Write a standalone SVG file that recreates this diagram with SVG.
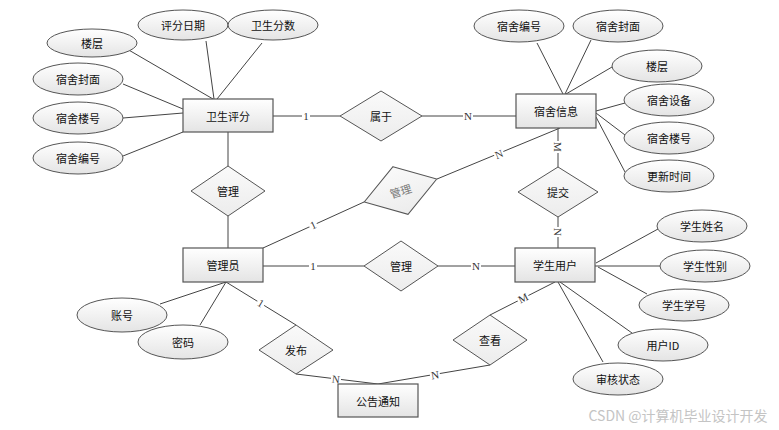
<svg xmlns="http://www.w3.org/2000/svg" width="779" height="430" viewBox="0 0 779 430">
<defs>
<linearGradient id="g" x1="0" y1="0" x2="0" y2="1">
<stop offset="0" stop-color="#ffffff"/>
<stop offset="1" stop-color="#e4e4e4"/>
</linearGradient>
<linearGradient id="gd" x1="0" y1="0" x2="0" y2="1">
<stop offset="0" stop-color="#fafafa"/>
<stop offset="1" stop-color="#ececec"/>
</linearGradient>
<style>
.ent{fill:url(#g);stroke:#555;stroke-width:1.2}
.att{fill:url(#g);stroke:#555;stroke-width:1}
.rel{fill:url(#gd);stroke:#555;stroke-width:1}
.t{font-family:"Noto Sans CJK SC","Liberation Sans",sans-serif;font-size:11px;fill:#111;text-anchor:middle;dominant-baseline:central}
.ln{stroke:#444;stroke-width:1;fill:none}
.lb{font-family:"Liberation Serif",serif;font-size:11px;fill:#333;text-anchor:middle;dominant-baseline:central}
.bg{fill:#fff}
</style>
</defs>
<rect width="779" height="430" fill="#fff"/>

<g id="connectors">
<line class="ln" x1="127" y1="49" x2="213" y2="99"/>
<line class="ln" x1="206" y1="41" x2="214" y2="99"/>
<line class="ln" x1="262" y1="43" x2="217" y2="99"/>
<line class="ln" x1="123" y1="84" x2="183" y2="109"/>
<line class="ln" x1="123" y1="118" x2="183" y2="113"/>
<line class="ln" x1="123" y1="156" x2="183" y2="132"/>
<line class="ln" x1="273" y1="116" x2="340" y2="116"/>
<line class="ln" x1="422" y1="116" x2="516" y2="116"/>
<line class="ln" x1="537" y1="43" x2="563" y2="94"/>
<line class="ln" x1="591" y1="40" x2="565" y2="94"/>
<line class="ln" x1="612" y1="67" x2="566" y2="94"/>
<line class="ln" x1="625" y1="103" x2="596" y2="111"/>
<line class="ln" x1="625" y1="135" x2="596" y2="113"/>
<line class="ln" x1="625" y1="172" x2="596" y2="117"/>
<line class="ln" x1="558" y1="128" x2="558" y2="167"/>
<line class="ln" x1="558" y1="217" x2="558" y2="248"/>
<line class="ln" x1="228" y1="132" x2="228" y2="166"/>
<line class="ln" x1="228" y1="216" x2="228" y2="248"/>
<line class="ln" x1="263" y1="248" x2="364" y2="202"/>
<line class="ln" x1="437" y1="179" x2="560" y2="128"/>
<line class="ln" x1="263" y1="266" x2="364" y2="266"/>
<line class="ln" x1="438" y1="266" x2="515" y2="266"/>
<line class="ln" x1="658" y1="229" x2="596" y2="263"/>
<line class="ln" x1="660" y1="266" x2="595" y2="266"/>
<line class="ln" x1="647" y1="294" x2="598" y2="267"/>
<line class="ln" x1="632" y1="333" x2="560" y2="282"/>
<line class="ln" x1="603" y1="362" x2="558" y2="282"/>
<line class="ln" x1="490" y1="315" x2="555" y2="282"/>
<line class="ln" x1="490" y1="365" x2="378" y2="384"/>
<line class="ln" x1="296" y1="374" x2="378" y2="384"/>
<line class="ln" x1="226" y1="282" x2="296" y2="325"/>
<line class="ln" x1="160" y1="304" x2="226" y2="282"/>
<line class="ln" x1="200" y1="325" x2="226" y2="282"/>
<g id="labels">
<g transform="translate(306,116)"><rect class="bg" x="-4" y="-5" width="8" height="10"/><text class="lb">1</text></g>
<g transform="translate(468,116)"><rect class="bg" x="-5" y="-5" width="10" height="10"/><text class="lb">N</text></g>
<g transform="translate(558,147) rotate(90)"><rect class="bg" x="-6" y="-5" width="12" height="10"/><text class="lb">M</text></g>
<g transform="translate(558,232) rotate(90)"><rect class="bg" x="-5" y="-5" width="10" height="10"/><text class="lb">N</text></g>
<g transform="translate(313,225) rotate(-24.5)"><rect class="bg" x="-4" y="-5" width="8" height="10"/><text class="lb">1</text></g>
<g transform="translate(499,154) rotate(-22.5)"><rect class="bg" x="-5" y="-5" width="10" height="10"/><text class="lb">N</text></g>
<g transform="translate(313,266)"><rect class="bg" x="-4" y="-5" width="8" height="10"/><text class="lb">1</text></g>
<g transform="translate(476,266)"><rect class="bg" x="-5" y="-5" width="10" height="10"/><text class="lb">N</text></g>
<g transform="translate(523,298) rotate(-27)"><rect class="bg" x="-6" y="-5" width="12" height="10"/><text class="lb">M</text></g>
<g transform="translate(435,375) rotate(-9.6)"><rect class="bg" x="-5" y="-5" width="10" height="10"/><text class="lb">N</text></g>
<g transform="translate(336,379) rotate(7)"><rect class="bg" x="-5" y="-5" width="10" height="10"/><text class="lb">N</text></g>
<g transform="translate(261,303) rotate(31.6)"><rect class="bg" x="-4" y="-5" width="8" height="10"/><text class="lb">1</text></g>
</g>
</g>

<g id="n-weisheng"><rect class="ent" x="183" y="99" width="90" height="33"/><text class="t" x="228" y="116">卫生评分</text></g>
<g id="n-sushe"><rect class="ent" x="516" y="94" width="80" height="34"/><text class="t" x="556" y="111">宿舍信息</text></g>
<g id="n-admin"><rect class="ent" x="183" y="248" width="80" height="34"/><text class="t" x="223" y="265">管理员</text></g>
<g id="n-student"><rect class="ent" x="515" y="248" width="80" height="34"/><text class="t" x="555" y="265">学生用户</text></g>
<g id="n-notice"><rect class="ent" x="338" y="384" width="80" height="33"/><text class="t" x="378" y="401">公告通知</text></g>

<g id="r-shuyu"><polygon class="rel" points="381,91 422,116 381,141 340,116"/><text class="t" x="381" y="116">属于</text></g>
<g id="r-guanli1"><polygon class="rel" points="228,166 265,191 228,216 191,191"/><text class="t" x="228" y="191">管理</text></g>
<g id="r-guanli2" transform="translate(400.5,190.5) rotate(-17.5)"><polygon class="rel" points="0,-25 38,0 0,25 -38,0"/><text class="t" x="0" y="0" style="fill:#777">管理</text></g>
<g id="r-guanli3"><polygon class="rel" points="401,241 438,266 401,291 364,266"/><text class="t" x="401" y="266">管理</text></g>
<g id="r-tijiao"><polygon class="rel" points="558,167 598,192 558,217 518,192"/><text class="t" x="558" y="192">提交</text></g>
<g id="r-chakan"><polygon class="rel" points="490,315 527,340 490,365 453,340"/><text class="t" x="490" y="340">查看</text></g>
<g id="r-fabu"><polygon class="rel" points="296,325 333,350 296,374 259,350"/><text class="t" x="296" y="350">发布</text></g>

<g id="a-louceng1"><ellipse class="att" cx="92" cy="43" rx="45" ry="14"/><text class="t" x="92" y="43">楼层</text></g>
<g id="a-pfrq"><ellipse class="att" cx="183" cy="25" rx="45" ry="15"/><text class="t" x="183" y="25">评分日期</text></g>
<g id="a-wsfs"><ellipse class="att" cx="273" cy="25" rx="45" ry="15"/><text class="t" x="273" y="25">卫生分数</text></g>
<g id="a-ssfm1"><ellipse class="att" cx="78" cy="79" rx="45" ry="16"/><text class="t" x="78" y="79">宿舍封面</text></g>
<g id="a-sslh1"><ellipse class="att" cx="78" cy="118" rx="45" ry="16"/><text class="t" x="78" y="118">宿舍楼号</text></g>
<g id="a-ssbh1"><ellipse class="att" cx="78" cy="158" rx="45" ry="16"/><text class="t" x="78" y="158">宿舍编号</text></g>
<g id="a-ssbh2"><ellipse class="att" cx="519" cy="26" rx="45" ry="16"/><text class="t" x="519" y="26">宿舍编号</text></g>
<g id="a-ssfm2"><ellipse class="att" cx="618" cy="26" rx="45" ry="16"/><text class="t" x="618" y="26">宿舍封面</text></g>
<g id="a-louceng2"><ellipse class="att" cx="657" cy="66" rx="45" ry="16"/><text class="t" x="657" y="66">楼层</text></g>
<g id="a-sssb"><ellipse class="att" cx="669" cy="100" rx="45" ry="16"/><text class="t" x="669" y="100">宿舍设备</text></g>
<g id="a-sslh2"><ellipse class="att" cx="669" cy="138" rx="45" ry="16"/><text class="t" x="669" y="138">宿舍楼号</text></g>
<g id="a-gxsj"><ellipse class="att" cx="669" cy="176" rx="45" ry="16"/><text class="t" x="669" y="176">更新时间</text></g>
<g id="a-xsxm"><ellipse class="att" cx="702" cy="226" rx="45" ry="16"/><text class="t" x="702" y="226">学生姓名</text></g>
<g id="a-xsxb"><ellipse class="att" cx="705" cy="266" rx="45" ry="16"/><text class="t" x="705" y="266">学生性别</text></g>
<g id="a-xsxh"><ellipse class="att" cx="684" cy="305" rx="45" ry="16"/><text class="t" x="684" y="305">学生学号</text></g>
<g id="a-yhid"><ellipse class="att" cx="663" cy="345" rx="45" ry="16"/><text class="t" x="663" y="345">用户ID</text></g>
<g id="a-shzt"><ellipse class="att" cx="618" cy="379" rx="45" ry="16"/><text class="t" x="618" y="379">审核状态</text></g>
<g id="a-zhanghao"><ellipse class="att" cx="122" cy="315" rx="45" ry="17"/><text class="t" x="122" y="315">账号</text></g>
<g id="a-mima"><ellipse class="att" cx="183" cy="342" rx="45" ry="17"/><text class="t" x="183" y="342">密码</text></g>

<text x="678" y="415" style="font-family:'Noto Sans CJK SC','Liberation Sans',sans-serif;font-size:14px;fill:#c4c4c4;text-anchor:middle;dominant-baseline:central">CSDN @计算机毕业设计开发</text>
</svg>
